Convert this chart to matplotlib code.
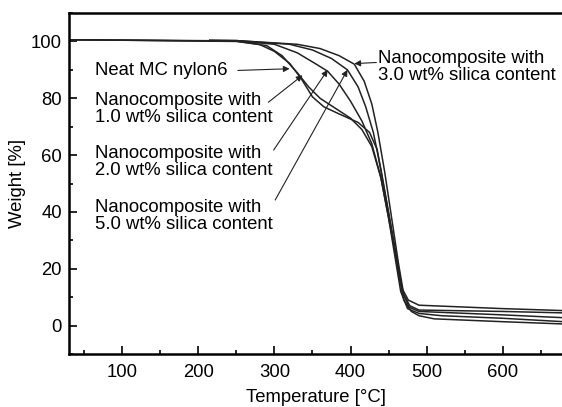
import matplotlib
matplotlib.use("Agg")
import matplotlib.pyplot as plt
from matplotlib.ticker import MultipleLocator

plt.rcParams['font.family'] = ['Liberation Sans', 'DejaVu Sans']

# TGA traces: temperature [C] and remaining weight [%]
t_neat = [30, 150, 250, 280, 300, 320, 335, 350, 365, 385, 410, 425, 435, 445,
          455, 462, 470, 480, 490, 510, 600, 680]
w_neat = [100.6, 100.3, 100.0, 99.0, 96.5, 92.3, 87.0, 80.5, 77.0, 74.5, 71.5, 68.0,
          62.0, 47.0, 32.0, 20.0, 9.0, 5.0, 3.5, 2.4, 1.4, 0.6]

t_10 = [30, 250, 290, 310, 330, 345, 360, 380, 400, 415, 428, 440, 450, 458,
        466, 475, 490, 520, 600, 680]
w_10 = [100.6, 100.1, 98.5, 95.0, 89.0, 84.0, 80.0, 76.5, 73.0, 69.0, 63.0, 52.0,
        38.0, 25.0, 12.0, 6.0, 4.3, 3.5, 2.6, 1.4]

t_20 = [30, 250, 300, 330, 355, 370, 385, 400, 415, 428, 440, 450, 460, 468,
        477, 490, 600, 680]
w_20 = [100.6, 100.2, 99.0, 96.0, 92.0, 89.5, 85.0, 79.0, 72.0, 64.0, 52.0, 38.0,
        24.0, 12.0, 6.5, 5.0, 3.8, 2.8]

t_30 = [215, 250, 330, 360, 385, 405, 418, 428, 436, 445, 454, 463, 470, 478,
        490, 600, 680]
w_30 = [100.4, 100.3, 99.0, 97.5, 95.0, 92.0, 86.0, 78.0, 68.0, 54.0, 38.0, 22.0,
        11.0, 7.0, 5.5, 5.0, 4.5]

t_50 = [215, 250, 320, 350, 375, 396, 410, 420, 430, 440, 450, 460, 468, 476,
        490, 600, 680]
w_50 = [100.4, 100.3, 99.0, 97.0, 94.0, 90.0, 84.0, 77.0, 68.0, 55.0, 40.0, 25.0,
        13.0, 9.0, 7.2, 6.0, 5.3]

labels = [
    "Neat MC nylon6",
    "Nanocomposite with\n1.0 wt% silica content",
    "Nanocomposite with\n2.0 wt% silica content",
    "Nanocomposite with\n5.0 wt% silica content",
    "Nanocomposite with\n3.0 wt% silica content",
]

fs = 13.3

fig = plt.figure(figsize=(5.62, 4.07), dpi=100)
ax = fig.add_axes([0.1228, 0.130, 0.8772, 0.838])

for t, w in [(t_neat, w_neat), (t_10, w_10), (t_20, w_20), (t_30, w_30), (t_50, w_50)]:
    ax.plot(t, w, color='#222222', lw=1.1)

ax.set_xlim(30, 678)
ax.set_ylim(-10, 110)
ax.xaxis.set_major_locator(MultipleLocator(100))
ax.xaxis.set_minor_locator(MultipleLocator(50))
ax.yaxis.set_major_locator(MultipleLocator(20))
ax.yaxis.set_minor_locator(MultipleLocator(10))
ax.tick_params(which='both', direction='in', labelsize=fs, width=1.2)
ax.tick_params(which='major', length=6)
ax.tick_params(which='minor', length=3)
ax.tick_params(axis='x', pad=7)
ax.tick_params(axis='y', pad=5)
for side in ['left', 'bottom', 'top']:
    ax.spines[side].set_linewidth(1.8)
ax.spines['right'].set_visible(False)

ax.set_xlabel("Temperature [\u00b0C]", fontsize=fs, labelpad=6)
ax.set_ylabel("Weight [%]", fontsize=fs, labelpad=4)

# labels: (text x, text y, arrow tail, arrow tip)
notes = [
    (64, 89.8, (252, 89.8), (320, 90.4)),
    (64, 76.1, (292, 78.6), (337, 88.1)),
    (64, 57.5, (299, 61.8), (370, 90.0)),
    (64, 38.6, (301, 44.2), (396, 90.0)),
    (435.5, 90.9, (434, 92.6), (405, 92.2)),
]
for text, (tx, ty, tail, tip) in zip(labels, notes):
    ax.text(tx, ty, text, fontsize=fs, va='center', ha='left', linespacing=1.0)
    ax.annotate('', xy=tip, xytext=tail,
                arrowprops=dict(arrowstyle='-|>', color='#222222', lw=0.8,
                                mutation_scale=9, shrinkA=0, shrinkB=0))

fig.savefig("out.png", dpi=100)
